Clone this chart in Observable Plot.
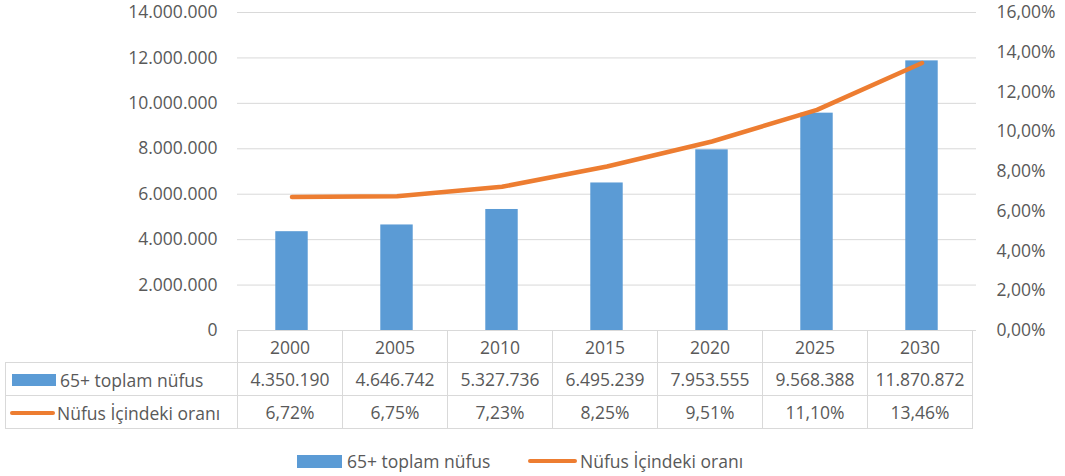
<!DOCTYPE html>
<html>
<head>
<meta charset="utf-8">
<script src="https://cdn.jsdelivr.net/npm/d3@7"></script>
<script src="https://cdn.jsdelivr.net/npm/@observablehq/plot@0.6"></script>
<style>
  body { margin: 0; background: #fff; }
  #wrap { position: relative; width: 1065px; height: 476px; font-family: "Open Sans", sans-serif; color: #595959; }
  #chart { position: absolute; left: 0; top: 0; }
  table.dt { position: absolute; left: 5px; top: 330px; border-collapse: collapse; font-size: 17.5px; color: #595959; }
  table.dt td { border: 1px solid #d9d9d9; text-align: center; padding: 0; white-space: nowrap; }
  table.dt td.blank { border-top: none; border-left: none; }
  table.dt td.lab { text-align: left; }
  .sw { display: inline-block; vertical-align: middle; }
  #legend { position: absolute; top: 447px; left: 0; width: 1065px; height: 28px; font-size: 17.5px; }
  #legend span.item { position: absolute; top: 0; white-space: nowrap; }
</style>
</head>
<body>
<div id="wrap">
  <div id="chart"></div>
  <table class="dt" id="dt"></table>
  <div id="legend"></div>
</div>
<script>
const years = ["2000", "2005", "2010", "2015", "2020", "2025", "2030"];
const population = [4350190, 4646742, 5327736, 6495239, 7953555, 9568388, 11870872];
const ratio = [6.72, 6.75, 7.23, 8.25, 9.51, 11.10, 13.46];
const leftTicks = [0, 2000000, 4000000, 6000000, 8000000, 10000000, 12000000, 14000000];
const rightTicks = [0, 2, 4, 6, 8, 10, 12, 14, 16];
const seriesNames = ["65+ toplam nüfus", "Nüfus İçindeki oranı"];
const barColor = "#5B9BD5";
const lineColor = "#ED7D31";

const trLocale = d3.formatLocale({decimal: ",", thousands: ".", grouping: [3], currency: ["", ""]});
const fmtInt = trLocale.format(",.0f");
const fmtPct = v => trLocale.format(".2f")(v) + "%";

const leftMax = 14000000, rightMax = 16;
const k = leftMax / rightMax;

const data = years.map((y, i) => ({year: y, pop: population[i], ratio: ratio[i], ratioScaled: ratio[i] * k}));

const W = 1065, H = 340, mL = 237, mR = 89, mT = 12, mB = 10;
const bw = (W - mL - mR) / years.length;
const barW = 33;
const inset = (bw - barW) / 2;

const plot = Plot.plot({
  width: W, height: H,
  marginLeft: mL, marginRight: mR, marginTop: mT, marginBottom: mB,
  style: {fontFamily: "'Open Sans', sans-serif", fontSize: "17.5px", color: "#595959", background: "#fff"},
  x: {domain: years, padding: 0, axis: null},
  y: {domain: [0, leftMax], axis: null},
  marks: [
    Plot.gridY(leftTicks, {stroke: "#d9d9d9", strokeOpacity: 1, strokeWidth: 1}),
    Plot.barY(data, {x: "year", y: "pop", fill: barColor, insetLeft: inset, insetRight: inset}),
    Plot.line(data, {x: "year", y: "ratioScaled", stroke: lineColor, strokeWidth: 4.5, strokeLinecap: "round", strokeLinejoin: "round"}),
    Plot.axisY(leftTicks, {anchor: "left", tickSize: 0, tickPadding: 20, tickFormat: fmtInt, fill: "#595959"}),
    Plot.axisY(rightTicks.map(v => v * k), {anchor: "right", tickSize: 0, tickPadding: 20, tickFormat: v => fmtPct(v / k), fill: "#595959"})
  ]
});
document.getElementById("chart").appendChild(plot);

// data table aligned with the x band scale
const xs = plot.scale("x");
const colW = xs.bandwidth;
const firstW = mL - 5;
const tbl = document.getElementById("dt");
function row(h) { const tr = document.createElement("tr"); tr.style.height = h + "px"; tbl.appendChild(tr); return tr; }
function cell(tr, html, w, cls) { const td = document.createElement("td"); td.innerHTML = html; td.style.width = w + "px"; td.style.minWidth = w + "px"; td.style.maxWidth = w + "px"; if (cls) td.className = cls; tr.appendChild(td); return td; }
const r1 = row(32);
cell(r1, "", firstW - 1, "blank");
years.forEach(y => cell(r1, y, colW - 1));
const r2 = row(33);
cell(r2, `<span class="sw" style="width:44px;height:12px;background:${barColor};margin:0 4px 0 6px"></span><span style="vertical-align:middle">${seriesNames[0]}</span>`, firstW - 1, "lab");
population.forEach(v => cell(r2, fmtInt(v), colW - 1));
const r3 = row(33);
cell(r3, `<span class="sw" style="width:45px;height:4px;border-radius:2px;background:${lineColor};margin:0 2px 0 4px"></span><span style="vertical-align:middle">${seriesNames[1]}</span>`, firstW - 1, "lab");
ratio.forEach(v => cell(r3, fmtPct(v), colW - 1));

// legend
document.getElementById("legend").innerHTML =
  `<span class="item" style="left:297px"><span class="sw" style="width:45px;height:13px;background:${barColor};margin-right:5px"></span><span style="vertical-align:middle">${seriesNames[0]}</span></span>` +
  `<span class="item" style="left:528px"><span class="sw" style="width:49px;height:4px;border-radius:2px;background:${lineColor};margin-right:3px"></span><span style="vertical-align:middle">${seriesNames[1]}</span></span>`;
</script>
</body>
</html>
